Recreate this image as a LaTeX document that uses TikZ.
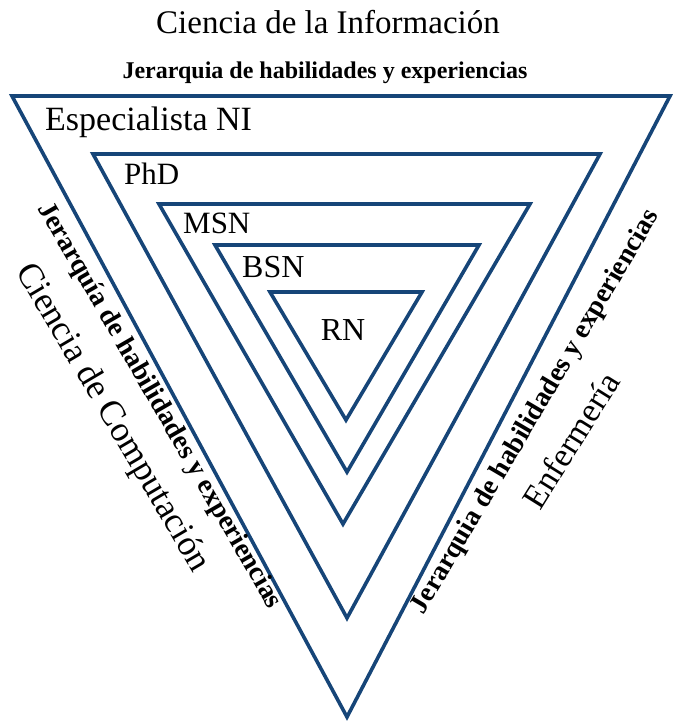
\documentclass[tikz,border=0pt]{standalone}
\usepackage{fontspec}
\setmainfont{Liberation Serif}
\definecolor{tri}{RGB}{22,69,120}
\tikzset{
  tri/.style={draw=tri, line width=3.6pt, line join=miter},
  lbl/.style={inner sep=0pt, text=black},
}
\begin{document}
\begin{tikzpicture}[x=1pt,y=-1pt]
\useasboundingbox (0,0) rectangle (675,721);
% triangles
\draw[tri] (12,96) -- (670,96) -- (347,717) -- cycle;
\draw[tri] (93,154) -- (600,154) -- (347,618) -- cycle;
\draw[tri] (159,204) -- (530,204) -- (343,524) -- cycle;
\draw[tri] (215,245) -- (479,245) -- (347,472) -- cycle;
\draw[tri] (270,292) -- (422,292) -- (346,420) -- cycle;
% top texts
\node[lbl, font=\fontsize{33}{33}\selectfont] (title) at (328,22) {Ciencia de la Información};
\node[lbl, font=\fontsize{24}{24}\selectfont\bfseries] (sub) at (325,73) {Jerarquia de habilidades y experiencias};
% level labels
\node[lbl, font=\fontsize{34}{34}\selectfont, anchor=west] (esp) at (45,122) {Especialista NI};
\node[lbl, font=\fontsize{31}{31}\selectfont, anchor=west] (phd) at (124,174) {PhD};
\node[lbl, font=\fontsize{31}{31}\selectfont, anchor=west] (msn) at (183,223) {MSN};
\node[lbl, font=\fontsize{32}{32}\selectfont, anchor=west] (bsn) at (242,267) {BSN};
\node[lbl, font=\fontsize{32}{32}\selectfont] (rn) at (343,330) {RN};
% side texts
\node[lbl, font=\fontsize{27.5}{27.5}\selectfont\bfseries, rotate=-60] (jl) at (159,406) {Jerarquía de habilidades y experiencias};
\node[lbl, font=\fontsize{35.5}{35.5}\selectfont, rotate=-59.5] (cc) at (112,418) {Ciencia de Computación};
\node[lbl, font=\fontsize{27.5}{27.5}\selectfont\bfseries, rotate=59.5] (jr) at (536,412) {Jerarquia de habilidades y experiencias};
\node[lbl, font=\fontsize{34}{34}\selectfont, rotate=58] (enf) at (571,440) {Enfermería};
\end{tikzpicture}
\end{document}
